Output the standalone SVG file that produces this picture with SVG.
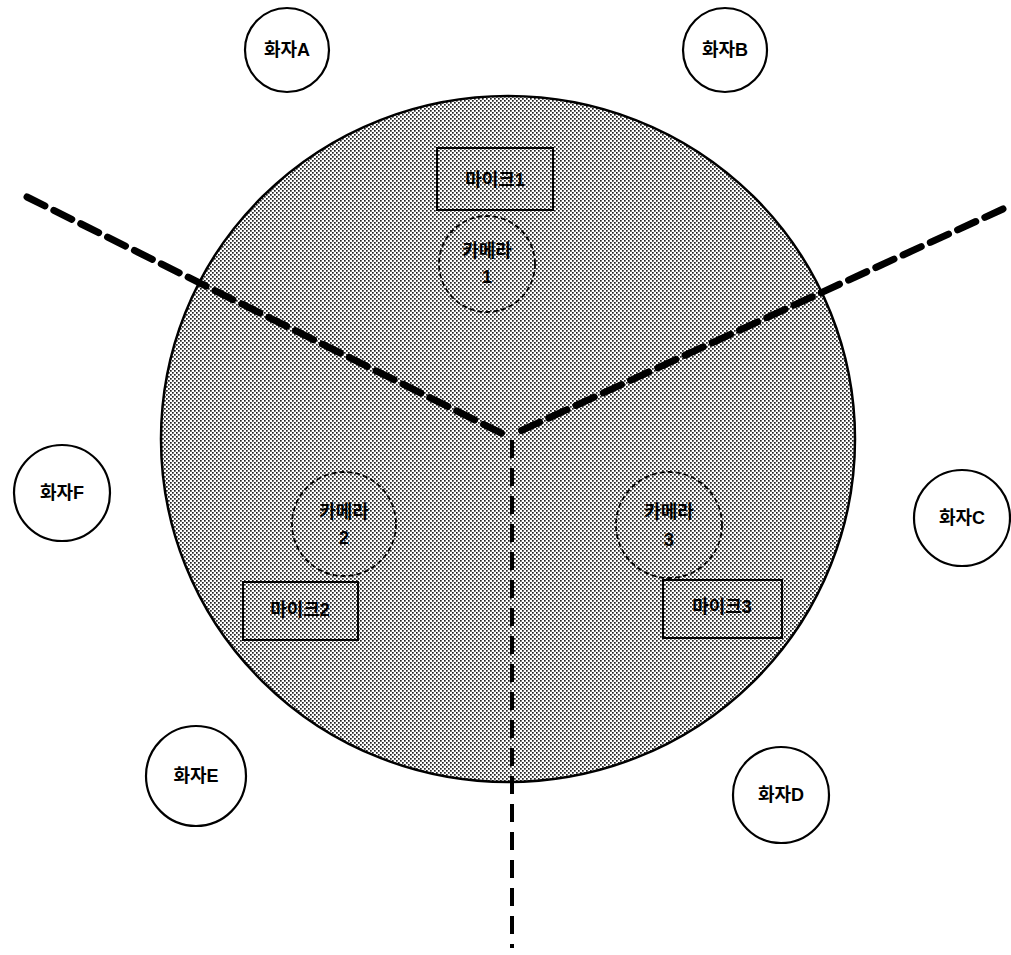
<svg xmlns="http://www.w3.org/2000/svg" width="1011" height="955" viewBox="0 0 1011 955">
<defs>
<pattern id="stip" width="4" height="4" patternUnits="userSpaceOnUse">
<rect width="4" height="4" fill="#ffffff"/>
<rect x="0" y="0" width="1.7" height="1.7" fill="#222"/>
<rect x="2" y="2" width="1.7" height="1.7" fill="#222"/>
</pattern>
<style>
.spk{fill:#fff;stroke:#000;stroke-width:2.2}
.cam{fill:url(#stip);stroke:#000;stroke-width:1.8;stroke-dasharray:5 3}
.mic{fill:url(#stip);stroke:#000;stroke-width:2}
.t{font-family:"Liberation Sans","Noto Sans CJK KR",sans-serif;font-weight:bold;font-size:18px;fill:#000;text-anchor:middle;dominant-baseline:central}
.thick{stroke:#000;stroke-width:7;stroke-dasharray:20 10;fill:none;stroke-linecap:round}
.thin{stroke:#000;stroke-width:4;stroke-dasharray:18 10;fill:none}
</style>
</defs>
<rect width="1011" height="955" fill="#fff"/>
<g id="area">
<ellipse cx="508" cy="439" rx="347" ry="343" fill="url(#stip)" stroke="#000" stroke-width="2.5"/>
</g>
<g id="connectors">
<line class="thick" x1="27" y1="197" x2="503" y2="434"/>
<line class="thick" x1="1003" y1="209" x2="514" y2="434"/>
<line class="thin" x1="512" y1="440" x2="512" y2="948"/>
</g>
<g id="speakerA"><circle class="spk" cx="287" cy="50" r="42"/><text class="t" x="287" y="50">화자A</text></g>
<g id="speakerB"><circle class="spk" cx="725" cy="50" r="42"/><text class="t" x="725" y="50">화자B</text></g>
<g id="speakerF"><circle class="spk" cx="62" cy="493" r="48"/><text class="t" x="62" y="493">화자F</text></g>
<g id="speakerC"><circle class="spk" cx="962" cy="518" r="48"/><text class="t" x="962" y="518">화자C</text></g>
<g id="speakerE"><circle class="spk" cx="196" cy="776" r="50"/><text class="t" x="196" y="776">화자E</text></g>
<g id="speakerD"><circle class="spk" cx="781" cy="795" r="48"/><text class="t" x="781" y="795">화자D</text></g>
<g id="mic1"><rect class="mic" x="437" y="148" width="116" height="62"/><text class="t" x="495" y="180">마이크1</text></g>
<g id="camera1"><circle class="cam" cx="487" cy="264" r="48"/><text class="t" x="487" y="251">카메라</text><text class="t" x="487" y="277">1</text></g>
<g id="camera2"><circle class="cam" cx="344" cy="524" r="52"/><text class="t" x="344" y="512">카메라</text><text class="t" x="344" y="538">2</text></g>
<g id="mic2"><rect class="mic" x="243" y="582" width="115" height="58"/><text class="t" x="300" y="610">마이크2</text></g>
<g id="camera3"><circle class="cam" cx="669" cy="525" r="53"/><text class="t" x="669" y="512">카메라</text><text class="t" x="669" y="540">3</text></g>
<g id="mic3"><rect class="mic" x="663" y="580" width="119" height="58"/><text class="t" x="722" y="607">마이크3</text></g>
</svg>
